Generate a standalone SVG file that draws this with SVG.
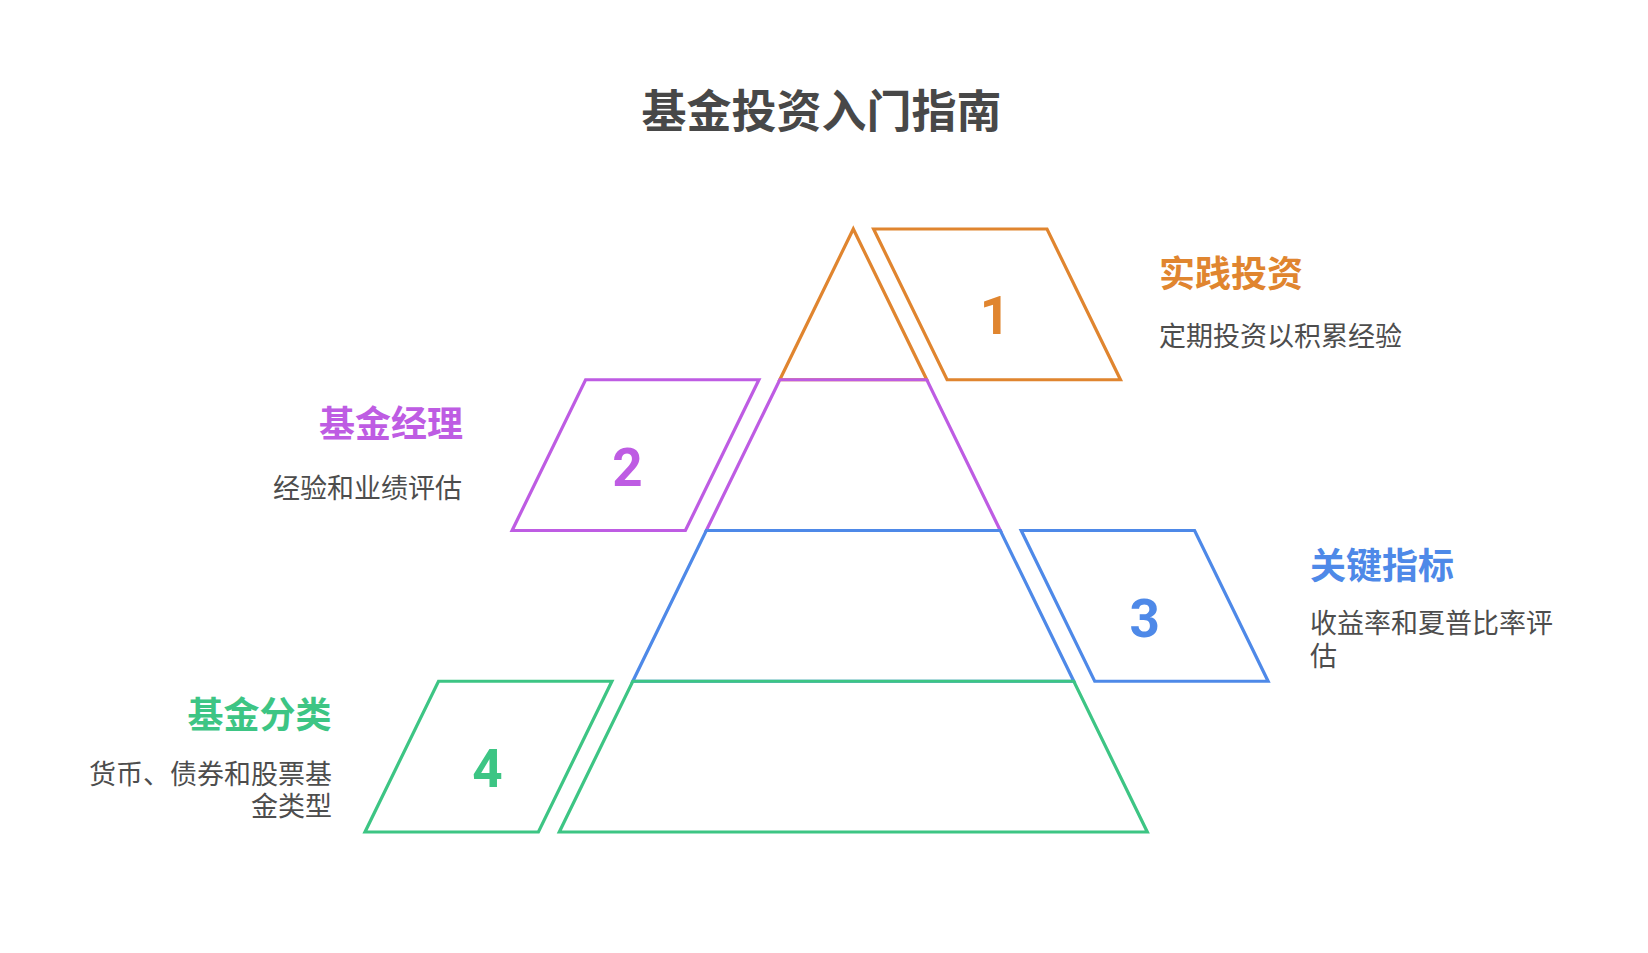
<svg xmlns="http://www.w3.org/2000/svg" width="1648" height="953" viewBox="0 0 1648 953">
<style>
.shape{fill:none;stroke-width:3.2;stroke-linejoin:miter}
.o{stroke:#E0852F}.p{stroke:#BE5CE3}.b{stroke:#4E89E8}.g{stroke:#3DC584}
.num{font-family:Roboto,"Liberation Sans",sans-serif;font-weight:700;font-size:53px;text-anchor:middle}
.hd{font-family:"Noto Sans CJK SC","Noto Sans",sans-serif;font-weight:700;font-size:36px}
.bd{font-family:"Noto Sans CJK SC","Noto Sans",sans-serif;font-size:27px;fill:#4d4d4d}
.title{font-family:"Noto Sans CJK SC","Noto Sans",sans-serif;font-weight:700;font-size:45px;fill:#484848;text-anchor:middle}
</style>
<rect width="1648" height="953" fill="#ffffff"/>
<text class="title" x="821.5" y="127.5">基金投资入门指南</text>
<g id="node-1">
<polygon class="shape o" points="853.3,229 926.8,379.75 779.8,379.75"/>
<polygon class="shape o" points="873.6,229 1047,229 1120.5,379.75 947.1,379.75"/>
<text class="num" x="995" y="334" fill="#E0852F">1</text>
<text class="hd" x="1159" y="286.5" fill="#E0852F">实践投资</text>
<text class="bd" x="1159" y="346.3">定期投资以积累经验</text>
</g>
<g id="node-2">
<polygon class="shape p" points="779.8,379.75 926.8,379.75 1000.3,530.5 706.3,530.5"/>
<polygon class="shape p" points="585.6,379.75 758.9,379.75 685.4,530.5 512.1,530.5"/>
<text class="num" x="627.5" y="486" fill="#BE5CE3">2</text>
<text class="hd" x="463" y="436.5" fill="#BE5CE3" text-anchor="end">基金经理</text>
<text class="bd" x="462" y="498" text-anchor="end">经验和业绩评估</text>
</g>
<g id="node-3">
<polygon class="shape b" points="706.3,530.5 1000.3,530.5 1073.8,681.25 632.8,681.25"/>
<polygon class="shape b" points="1021.2,530.5 1194.6,530.5 1268.1,681.25 1094.7,681.25"/>
<text class="num" x="1144.7" y="636.5" fill="#4E89E8">3</text>
<text class="hd" x="1310" y="578.5" fill="#4E89E8">关键指标</text>
<text class="bd" x="1310" y="632.6"><tspan x="1310" y="632.6">收益率和夏普比率评</tspan><tspan x="1310" y="666.3">估</tspan></text>
</g>
<g id="node-4">
<polygon class="shape g" points="632.8,681.25 1073.8,681.25 1147.3,832 559.3,832"/>
<polygon class="shape g" points="438.5,681.25 611.9,681.25 538.4,832 365,832"/>
<text class="num" x="487.5" y="787" fill="#3DC584">4</text>
<text class="hd" x="331.5" y="728" fill="#3DC584" text-anchor="end">基金分类</text>
<text class="bd" x="332" y="783.8" text-anchor="end"><tspan x="332" y="783.8">货币、债券和股票基</tspan><tspan x="332" y="816.3">金类型</tspan></text>
</g>
</svg>
